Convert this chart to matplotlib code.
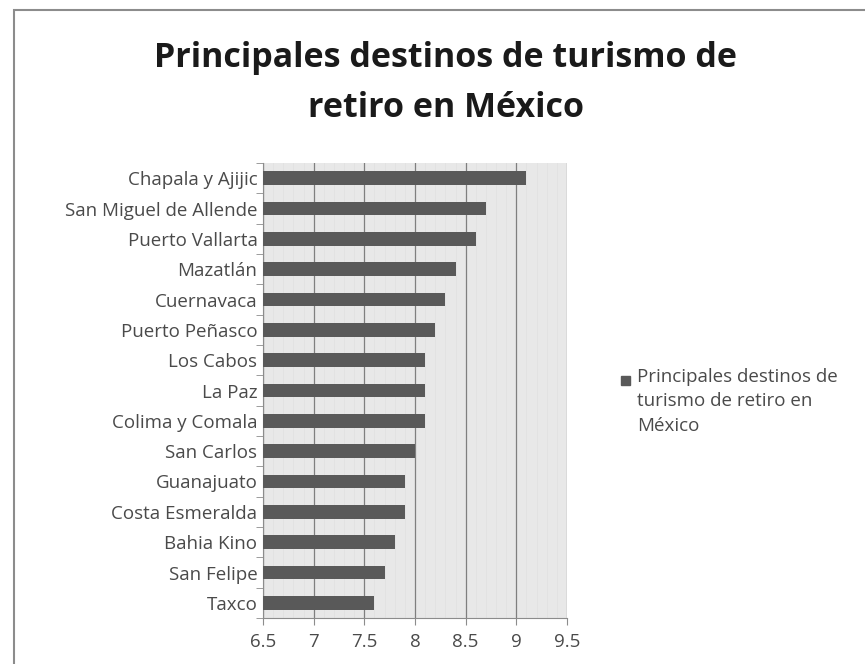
import numpy as np
import matplotlib.pyplot as plt
from matplotlib.patches import Rectangle
from matplotlib.ticker import MultipleLocator

plt.rcParams['font.family'] = ['Open Sans', 'DejaVu Sans']

destinos = ["Chapala y Ajijic", "San Miguel de Allende", "Puerto Vallarta", "Mazatlán",
            "Cuernavaca", "Puerto Peñasco", "Los Cabos", "La Paz", "Colima y Comala",
            "San Carlos", "Guanajuato", "Costa Esmeralda", "Bahia Kino", "San Felipe", "Taxco"]
valores = [9.1, 8.7, 8.6, 8.4, 8.3, 8.2, 8.1, 8.1, 8.1, 8.0, 7.9, 7.9, 7.8, 7.7, 7.6]
xticks = [6.5, 7, 7.5, 8, 8.5, 9, 9.5]
titulo = "Principales destinos de turismo de\nretiro en México"
serie = "Principales destinos de\nturismo de retiro en\nMéxico"

bar_color = '#595959'
txt_color = '#4a4a4a'

fig = plt.figure(figsize=(8.65, 6.64), dpi=100)
# marco del gráfico
fig.patches.append(Rectangle((14/865, -0.01), 1.0, 1 - 10/664 + 0.01, transform=fig.transFigure,
                             fill=False, edgecolor='#8c8c8c', lw=1.5))

ax = fig.add_axes([263/865, 46/664, 304/865, 455/664])
ax.set_facecolor('#e8e8e8')

y = np.arange(len(destinos))
ax.barh(y, np.array(valores) - 6.5, left=6.5, height=0.45, color=bar_color, zorder=3)
ax.set_ylim(len(destinos) - 0.5, -0.5)
ax.set_xlim(6.5, 9.5)
ax.set_xticks(xticks)
ax.set_xticklabels([f"{v:g}" for v in xticks])
ax.xaxis.set_minor_locator(MultipleLocator(0.1))
ax.grid(axis='x', which='major', color='#7f7f7f', lw=0.9, zorder=1)
ax.grid(axis='x', which='minor', color='#e1e1e1', lw=0.6, zorder=0)
ax.tick_params(axis='x', which='minor', length=0)

ax.set_yticks(y)
ax.set_yticklabels(destinos)
ax.set_yticks(np.arange(len(destinos) + 1) - 0.5, minor=True)
ax.tick_params(axis='y', which='major', length=0, pad=4, labelsize=13.5, colors=txt_color)
ax.tick_params(axis='y', which='minor', length=5, color='#8c8c8c')
ax.tick_params(axis='x', which='major', length=5, color='#8c8c8c', labelsize=13.5,
               colors=txt_color, pad=6)

for s in ['top', 'right']:
    ax.spines[s].set_visible(False)
ax.spines['left'].set_color('#8c8c8c')
ax.spines['bottom'].set_color('#8c8c8c')

fig.text(446/865, 1 - 83/664, titulo, ha='center', va='center', fontsize=24.5,
         fontweight='bold', linespacing=1.58, color='#1a1a1a')

# leyenda
fig.patches.append(Rectangle((621/865, 1 - 385/664), 9/865, 9/664, transform=fig.transFigure,
                             color=bar_color))
fig.text(637/865, 1 - 368/664, serie, ha='left', va='top', fontsize=13.5,
         linespacing=1.45, color=txt_color)

fig.savefig("out.png", dpi=100)
